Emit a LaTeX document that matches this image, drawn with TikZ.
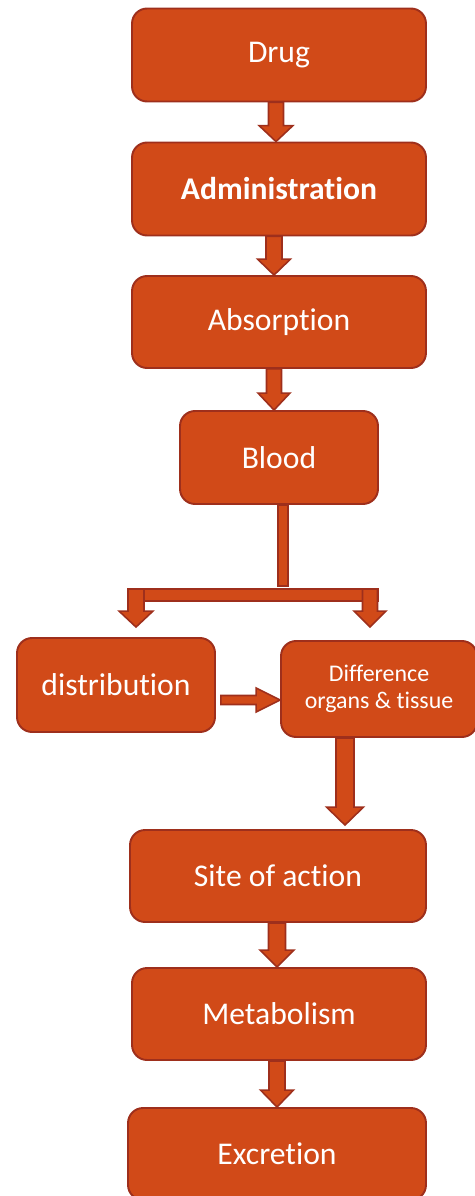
\documentclass[tikz,border=0pt]{standalone}
\usepackage{fontspec}
\setmainfont{Carlito}[Ligatures=NoCommon]
\usepackage{tikz}
\usetikzlibrary{calc}
\definecolor{BoxFill}{RGB}{209,74,24}
\definecolor{BoxEdge}{RGB}{158,47,28}
\newcommand{\downblock}[5]{%
  \draw[blockarr] ($(#1)+(-#3,0)$) -- ($(#1)+(#3,0)$) -- ($(#2)+(#3,-#5)$)
    -- ($(#2)+(#4,-#5)$) -- (#2) -- ($(#2)+(-#4,-#5)$) -- ($(#2)+(-#3,-#5)$) -- cycle;}
\newcommand{\rightblock}[5]{%
  \draw[blockarr] ($(#1)+(0,-#3)$) -- ($(#2)+(-#5,-#3)$) -- ($(#2)+(-#5,-#4)$)
    -- (#2) -- ($(#2)+(-#5,#4)$) -- ($(#2)+(-#5,#3)$) -- ($(#1)+(0,#3)$) -- cycle;}

\begin{document}
\begin{tikzpicture}[x=0.02cm,y=-0.02cm,
  box/.style={draw=BoxEdge,line width=1.1pt,fill=BoxFill,rounded corners=0.3cm,
    text=white,font=\fontsize{18}{21.6}\selectfont,align=center,
    minimum width=5.88cm,minimum height=1.86cm},
  smallbox/.style={box,minimum width=3.96cm},
  blockarr/.style={draw=BoxEdge,line width=0.9pt,fill=BoxFill,line join=miter}]
  \clip (0,0) rectangle (475,1196);
  \node[box] (drug) at (279,55) {Drug};
  \node[box,font=\fontsize{18}{21.6}\selectfont\bfseries] (admin) at (279,189) {Administration};
  \node[box,minimum height=1.84cm] (absorp) at (279,322) {Absorption};
  \node[smallbox] (blood) at (279,457.5) {Blood};
  \node[smallbox,minimum height=1.88cm] (dist) at (116,685) {distribution};
  \node[smallbox,minimum width=3.92cm,minimum height=1.92cm,
    font=\fontsize{13.6}{15.3}\selectfont] (organs) at (379,689) {Difference\\organs \& tissue};
  \node[box,minimum width=5.92cm,minimum height=1.84cm] (site) at (278,876) {Site of action};
  \node[box,minimum height=1.84cm] (metab) at (279,1014) {Metabolism};
  \node[box,minimum width=5.96cm,minimum height=1.84cm] (excr) at (277,1154) {Excretion};

  \downblock{276,0 |- drug.south}{276,0 |- admin.north}{7.5}{17}{16}
  \downblock{274,0 |- admin.south}{274,0 |- absorp.north}{8}{16.5}{16}
  \downblock{274,0 |- absorp.south}{274,0 |- blood.north}{7.5}{16}{17}

  \coordinate (barL) at (131,589);
  \coordinate (barR) at (378,601);
  \draw[blockarr] (278,0 |- blood.south) rectangle (288,586);
  \draw[blockarr] (barL) rectangle (barR);
  \coordinate (tipL) at ($(dist.north)+(20,-10)$);
  \coordinate (tipR) at ($(organs.north)+(-9,-13)$);
  \downblock{tipL |- barL}{tipL}{8}{17}{16}
  \downblock{tipR |- barL}{tipR}{7.5}{16}{16}

  \coordinate (hs) at ($(dist.east)+(5,15)$);
  \rightblock{hs}{hs -| organs.west}{4.5}{12}{24}

  \coordinate (tipS) at ($(site.north)+(67,-4)$);
  \downblock{tipS |- organs.south}{tipS}{9}{18.5}{18}

  \downblock{277,0 |- site.south}{277,0 |- metab.north}{8.5}{17}{17}
  \downblock{277,0 |- metab.south}{277,0 |- excr.north}{8}{16.5}{17}
\end{tikzpicture}
\end{document}
